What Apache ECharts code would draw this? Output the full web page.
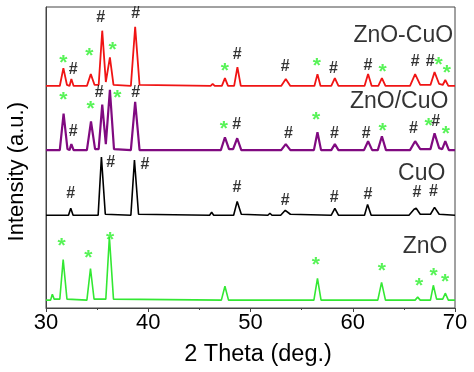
<!DOCTYPE html>
<html>
<head>
<meta charset="utf-8">
<script src="https://cdn.jsdelivr.net/npm/echarts@6/dist/echarts.min.js"></script>
<style>html,body{margin:0;padding:0;background:#fff;}#c{width:474px;height:372px;}</style>
</head>
<body>
<div id="c"></div>
<script>
// 2θ (deg.) vs intensity (a.u., stacked traces)
const xTicks = [30, 40, 50, 60, 70];

const znoCuo = [[30,225],[31.35,225],[31.7,243],[32.05,226],[32.3,225],[32.48,232],[32.7,225],[34.0,225],[34.38,237],[34.75,226],[35.15,226],[35.5,281],[35.85,229],[35.95,230],[36.25,254],[36.6,226],[38.3,225],[38.72,285],[39.15,226],[46.1,225],[46.3,227],[46.5,225],[47.2,225],[47.5,233],[47.8,225],[48.4,225],[48.72,244],[49.05,225],[53.0,225],[53.45,232],[53.9,225],[56.25,225],[56.55,237],[56.85,225],[57.9,225],[58.25,233],[58.6,225],[61.15,225],[61.5,237],[61.85,225],[62.5,225],[62.85,233],[63.2,225],[65.6,225],[66.1,237],[66.6,226],[67.6,226],[68.0,239],[68.45,227],[68.8,226],[69.05,231],[69.35,225],[70,225]];

const znoSlashCuo = [[30,160],[31.35,160],[31.72,197],[32.1,161],[32.3,160],[32.48,166],[32.7,160],[34.0,160],[34.4,189],[34.8,161],[35.15,161],[35.5,206],[35.85,166],[36.25,221],[36.65,161],[38.3,160],[38.72,209],[39.15,160],[47.1,160],[47.5,173],[47.9,161],[48.3,161],[48.7,172],[49.1,160],[53.0,160],[53.45,166],[53.9,160],[56.2,160],[56.55,178],[56.9,160],[57.9,160],[58.25,166],[58.6,160],[61.1,160],[61.5,169],[61.9,160],[62.45,160],[62.85,174],[63.25,160],[65.6,160],[66.1,169],[66.6,161],[67.6,161],[68.0,177],[68.45,162],[68.75,161],[69.05,169],[69.4,160],[70,160]];

const cuo = [[30,94],[32.2,94],[32.42,101],[32.65,94],[35.1,94],[35.42,153],[35.8,95],[38.3,94],[38.65,150],[39.05,95],[46.0,94],[46.2,97],[46.4,94],[48.35,94],[48.7,108],[49.1,95],[51.7,94],[51.9,96],[52.1,94],[52.95,94],[53.4,99],[53.9,95],[57.9,94],[58.25,101],[58.6,94],[61.15,94],[61.45,105],[61.8,94],[65.5,94],[66.0,100],[66.2,101],[66.6,95],[67.6,95],[68.0,102],[68.45,95],[70,94]];

const zno = [[30,8],[30.45,8],[30.62,14],[30.8,9],[31.35,9],[31.68,49],[32.05,9],[34.0,8],[34.35,40],[34.7,9],[35.85,9],[36.2,72],[36.6,9],[47.15,8],[47.5,22],[47.85,8],[56.2,8],[56.55,30],[56.9,8],[62.45,8],[62.82,26],[63.2,8],[66.1,8],[66.35,11],[66.6,8],[67.6,8],[67.88,23],[68.2,9],[68.8,9],[69.05,15],[69.35,8],[70,8]];

// peak markers: [2θ, intensity] at the mark's centre
const starMarks = [
  [31.69,252],[34.23,259],[36.52,265],[47.50,244],[56.49,249],[62.91,243],[68.39,250],[69.20,242],
  [31.69,215],[34.37,205],[36.97,217],[47.40,185],[56.42,194],[62.91,183],[67.41,188],[69.10,180],
  [31.53,67],[34.13,55],[36.26,73],[56.39,47],[62.84,41],[66.49,26],[67.90,36],[69.03,30]
];
const hashMarks = [
  [32.67,242],[35.35,294],[38.77,298],[48.70,257],[53.39,245],[58.12,243],[61.48,246],[66.10,250],[67.57,250],
  [32.67,179],[35.21,218],[38.77,218],[48.64,186],[53.72,177],[58.22,177],[61.31,177],[65.94,182],[68.12,189],
  [32.41,116],[36.32,147],[39.68,145],[48.67,122],[53.39,109],[58.18,112],[61.48,115],[66.27,117],[67.90,118]
];
const sampleNames = ['ZnO-CuO', 'ZnO/CuO', 'CuO', 'ZnO'];
const sampleLabelPos = [[69.81,276],[69.35,209],[69.06,136],[69.26,62]];

const FONT = '"Liberation Sans", Arial, sans-serif';
const chart = echarts.init(document.getElementById('c'), null, {renderer: 'canvas'});

function trace(name, data, color, w) {
  return {name, type: 'line', data, showSymbol: false, symbol: 'none',
    lineStyle: {color, width: w}, itemStyle: {color}, animation: false, z: 2};
}

chart.setOption({
  animation: false,
  backgroundColor: '#fff',
  grid: {left: 46, right: 19, top: 7, bottom: 60, show: true, borderColor: '#444', borderWidth: 1},
  graphic: [{
    type: 'text', left: 6, top: 102, rotation: Math.PI / 2,
    style: {text: 'Intensity (a.u.)', fontFamily: FONT, fontSize: 22, fill: '#000'}
  }],
  xAxis: {
    type: 'value', min: 30, max: 70, interval: 10,
    name: '2 Theta (deg.)', nameLocation: 'middle', nameGap: 35,
    nameTextStyle: {fontFamily: FONT, fontSize: 23.5, color: '#000', padding: [0, 0, 0, 15]},
    axisLine: {show: true, lineStyle: {color: '#444', width: 1}},
    axisTick: {show: true, inside: false, length: 4, lineStyle: {color: '#444'}},
    minorTick: {show: true, splitNumber: 2, length: 2, lineStyle: {color: '#444'}},
    splitLine: {show: false},
    axisLabel: {fontFamily: FONT, fontSize: 22, color: '#000', margin: 4,
      formatter: v => xTicks.includes(v) ? String(v) : ''}
  },
  yAxis: {
    type: 'value', min: 0, max: 305,
    axisLine: {show: true, lineStyle: {color: '#444', width: 1}},
    axisTick: {show: false}, axisLabel: {show: false}, splitLine: {show: false}
  },
  series: [
    trace('ZnO-CuO', znoCuo, '#f01414', 1.8),
    trace('ZnO/CuO', znoSlashCuo, '#800a80', 2.2),
    trace('CuO', cuo, '#000000', 1.6),
    trace('ZnO', zno, '#33e833', 1.6),
    {type: 'scatter', data: starMarks, symbolSize: 0, z: 5, silent: true,
      label: {show: true, position: 'inside', formatter: '*', fontFamily: FONT, fontSize: 21,
        fontWeight: 'bold', color: '#2ef02e', offset: [0, 4]}},
    {type: 'scatter', data: hashMarks, symbolSize: 0, z: 5, silent: true,
      label: {show: true, position: 'inside', formatter: '#', fontFamily: FONT, fontSize: 16,
        fontWeight: 'bold', color: '#000'}},
    {type: 'scatter', data: sampleLabelPos.map((p, i) => ({value: p, name: sampleNames[i]})),
      symbolSize: 0, z: 5, silent: true,
      label: {show: true, position: 'left', distance: 0, formatter: p => p.name, fontFamily: FONT,
        fontSize: 23, color: '#000'}}
  ]
});
</script>
</body>
</html>
